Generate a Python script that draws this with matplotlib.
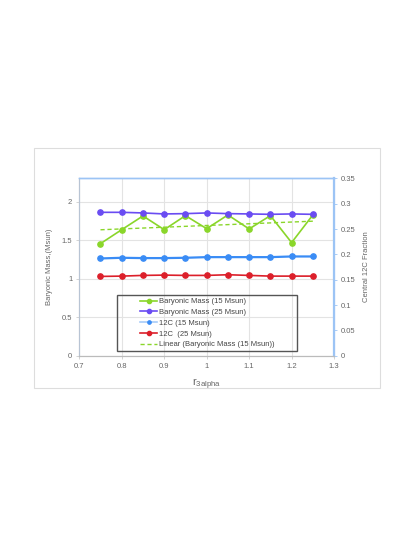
import numpy as np
import matplotlib
matplotlib.use("Agg")
import matplotlib.pyplot as plt
from matplotlib.patches import Rectangle

plt.rcParams['font.family'] = ['Liberation Sans', 'DejaVu Sans']

# r_3alpha values
r3a = [0.75, 0.8, 0.85, 0.9, 0.95, 1.0, 1.05, 1.1, 1.15, 1.2, 1.25]

# baryonic mass (left axis)
bm15 = [1.455, 1.636, 1.814, 1.636, 1.818, 1.649, 1.827, 1.645, 1.818, 1.468, 1.827]
bm25 = [1.861, 1.861, 1.853, 1.840, 1.844, 1.853, 1.844, 1.840, 1.835, 1.840, 1.835]

# central 12C fraction (right axis)
c15 = [0.1921, 0.1934, 0.1928, 0.1928, 0.1934, 0.1947, 0.1947, 0.1947, 0.1947, 0.1960, 0.1960]
c25 = [0.1566, 0.1572, 0.1586, 0.1592, 0.1586, 0.1586, 0.1599, 0.1586, 0.1572, 0.1572, 0.1572]

green = '#8ad62a'
purple = '#6a4cf2'
blue = '#3a8cf5'
red = '#dc1f2a'
gray = '#666666'

fig = plt.figure(figsize=(4.15, 5.37), dpi=100)

# outer chart border
fig.patches.append(Rectangle((0.0827, 0.277), 0.834, 0.447, transform=fig.transFigure,
                             fill=False, edgecolor='#dddddd', lw=0.8))

ax = fig.add_axes([0.191, 0.3376, 0.614, 0.330])
ax2 = ax.twinx()

ax.set_xlim(0.7, 1.3)
ax.set_ylim(0, 2.3)
ax2.set_ylim(0, 0.35)
ax.set_xticks(np.arange(0.7, 1.31, 0.1))
ax.set_xticklabels(['0.7', '0.8', '0.9', '1', '1.1', '1.2', '1.3'])
ax.set_yticks([0, 0.5, 1, 1.5, 2])
ax.set_yticklabels(['0', '0.5', '1', '1.5', '2'])
ax2.set_yticks(np.arange(0, 0.351, 0.05))
ax2.set_yticklabels(['0', '0.05', '0.1', '0.15', '0.2', '0.25', '0.3', '0.35'])

ax.grid(True, color='#e3e3e3', lw=0.8)
ax.set_axisbelow(True)

for a in (ax, ax2):
    a.tick_params(labelsize=5.5, labelcolor=gray, length=2, width=0.6, pad=3)
ax.tick_params(axis='y', colors='#cccccc', labelcolor=gray)
ax.tick_params(axis='x', colors='#cccccc', labelcolor=gray)
ax2.tick_params(axis='y', colors='#9cc4f5', labelcolor=gray)

for a in (ax, ax2):
    a.spines['top'].set_color('#9cc4f5')
    a.spines['left'].set_color('#b8c4d4')
    a.spines['bottom'].set_color('#bbbbbb')
    a.spines['right'].set_color('#9cc4f5')
    a.spines['top'].set_linewidth(1.0)
ax2.spines['right'].set_linewidth(1.6)

ms = 3.8
l1, = ax.plot(r3a, bm15, '-o', color=green, lw=1.2, ms=ms)
l2, = ax.plot(r3a, bm25, '-o', color=purple, lw=1.2, ms=ms)
l3, = ax2.plot(r3a, c15, '-o', color=blue, lw=1.6, ms=ms, markerfacecolor=blue)
l4, = ax2.plot(r3a, c25, '-o', color=red, lw=1.2, ms=ms)

# linear trend of the 15 Msun baryonic mass
k, b0 = np.polyfit(r3a, bm15, 1)
xt = np.array([r3a[0], r3a[-1]])
l5, = ax.plot(xt, k * xt + b0, '--', color=green, lw=1.0, dashes=(3, 2))

ax.set_ylabel('Baryonic Mass,(Msun)', fontsize=5.5, color=gray, labelpad=6)
ax2.set_ylabel('Central 12C Fraction', fontsize=5.5, color=gray, labelpad=5)
ax.set_xlabel(r'$\mathregular{r_{3alpha}}$', fontsize=8, color=gray, labelpad=5)

# legend box
ax2.add_patch(Rectangle((0.148, 0.0265), 0.706, 0.316, transform=ax2.transAxes,
                        fill=False, edgecolor='#555555', lw=1.0, zorder=5))
l3h, = ax2.plot([], [], '-o', color='#a8ccf8', lw=1.2, ms=3, markerfacecolor=blue,
                markeredgecolor=blue)
leg = ax2.legend([l1, l2, l3h, l4, l5],
                 ['Baryonic Mass (15 Msun)', 'Baryonic Mass (25 Msun)', '12C (15 Msun)',
                  '12C  (25 Msun)', 'Linear (Baryonic Mass (15 Msun))'],
                 loc='center left', bbox_to_anchor=(0.24, 0.184), frameon=False,
                 fontsize=5.5, handlelength=2.2, handletextpad=0.2, labelspacing=0.45,
                 borderpad=0, borderaxespad=0, markerscale=0.8)
for t in leg.get_texts():
    t.set_color('#444444')

fig.savefig('out.png', dpi=100)
